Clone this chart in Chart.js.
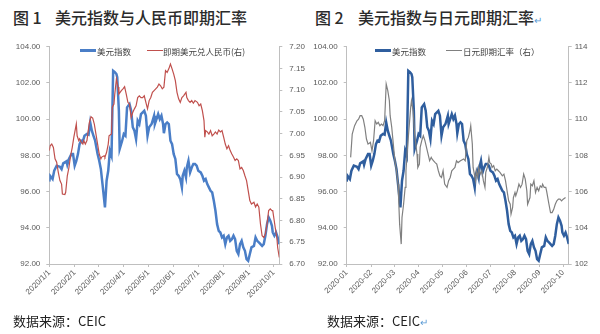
<!DOCTYPE html>
<html>
<head>
<meta charset="utf-8">
<script src="https://cdn.jsdelivr.net/npm/chart.js@4.4.1/dist/chart.umd.min.js"></script>
<style>
  body { margin: 0; width: 600px; height: 334px; background: #fff; position: relative; overflow: hidden;
         font-family: "Noto Sans CJK SC", sans-serif; }
  .t { position: absolute; top: 7px; line-height: 20px; font-size: 16px; font-weight: 500; color: #2b2b2b; white-space: nowrap; }
  .src { position: absolute; top: 313px; line-height: 16px; font-size: 13px; color: #222; white-space: nowrap; }
  .lg { position: absolute; top: 45.5px; line-height: 10px; font-size: 8.5px; color: #404040; white-space: nowrap; }
  .ln { position: absolute; width: 16px; }
  .ret { color: #5B9BD5; font-size: 10px; font-weight: normal; }
  canvas { position: absolute; top: 30px; }
</style>
</head>
<body>
<div class="t" style="left:13px">图 1</div>
<div class="t" style="left:55px">美元指数与人民币即期汇率</div>
<div class="t" style="left:315px">图 2</div>
<div class="t" style="left:358px">美元指数与日元即期汇率<span class="ret">↵</span></div>

<canvas id="cnyChart" width="310" height="290" style="left:0"></canvas>
<canvas id="jpyChart" width="300" height="290" style="left:300px"></canvas>

<div class="ln" style="left:80px;top:49.3px;height:2.5px;background:#4A7EC7"></div>
<div class="lg" style="left:97px">美元指数</div>
<div class="ln" style="left:146.5px;top:49.9px;height:1.3px;background:#C0504D"></div>
<div class="lg" style="left:163px">即期美元兑人民币(右)</div>

<div class="ln" style="left:375px;top:49.3px;height:2.5px;background:#2F5E9E"></div>
<div class="lg" style="left:392px">美元指数</div>
<div class="ln" style="left:445.5px;top:49.9px;height:1.3px;background:#808080"></div>
<div class="lg" style="left:463px">日元即期汇率（右）</div>

<div class="src" style="left:13px">数据来源：CEIC</div>
<div class="src" style="left:327px">数据来源：CEIC<span class="ret">↵</span></div>

<script>
// x 轴用 2020 年内的天数（1月1日 = 0）
const monthDays = [0, 31, 60, 91, 121, 152, 182, 213, 244, 274];
const cnyMonthLabels = ['2020/1/1', '2020/2/1', '2020/3/1', '2020/4/1', '2020/5/1',
  '2020/6/1', '2020/7/1', '2020/8/1', '2020/9/1', '2020/10/1'];
const jpyMonthLabels = ['2020-01', '2020-02', '2020-03', '2020-04', '2020-05',
  '2020-06', '2020-07', '2020-08', '2020-09', '2020-10'];

// 美元指数
const dxyDays = [0, 1, 4, 6, 9, 13, 15, 17, 21, 22, 24, 27, 29, 31, 33, 35, 37, 39, 41, 43,
  46, 48, 50, 52, 54, 56, 59, 61, 63, 65, 68, 70, 72, 74, 76, 78, 80, 82, 83, 85,
  86, 89, 91, 93, 95, 98, 100, 102, 104, 106, 108, 110, 112, 116, 118, 120, 122, 125, 128, 129,
  133, 135, 137, 139, 140, 142, 144, 146, 148, 150, 152, 154, 156, 158, 160, 162, 163, 165, 167, 168,
  170, 172, 174, 176, 178, 180, 182, 185, 187, 189, 191, 193, 195, 197, 199, 201, 203, 205, 207, 209,
  211, 213, 215, 217, 219, 221, 223, 225, 227, 229, 231, 233, 235, 237, 239, 241, 243, 245, 247, 250,
  252, 254, 256, 258, 260, 262, 264, 266, 268, 270, 272, 273, 275, 277, 279, 281];
const dxyValues = [96.55, 96.87, 96.69, 97.15, 97.43, 97.37, 97.24, 97.56, 97.67, 97.48, 97.80, 98.07, 98.07, 97.43, 97.70, 98.07, 98.62, 98.81, 98.77, 99.08,
  99.18, 99.14, 99.82, 99.36, 99.08, 98.81, 98.07, 97.70, 97.24, 96.41, 95.13, 96.60, 97.15, 98.25, 97.98, 102.67, 102.60, 102.49, 102.31, 100.46,
  98.35, 98.81, 99.18, 99.08, 100.65, 100.83, 100.46, 99.55, 99.36, 98.90, 99.91, 99.73, 100.28, 100.46, 100.19, 99.08, 99.55, 99.73, 100.19, 99.73,
  100.28, 100.00, 100.19, 99.73, 99.22, 99.73, 99.82, 99.73, 98.81, 98.62, 98.07, 97.80, 96.97, 96.87, 96.69, 96.23, 96.87, 97.15, 96.78, 97.33,
  97.70, 97.06, 97.33, 97.52, 97.52, 97.43, 97.15, 97.06, 96.87, 96.60, 96.69, 96.41, 96.23, 96.04, 95.95, 95.49, 94.94, 94.20, 93.83, 93.74,
  93.47, 93.56, 93.10, 93.47, 93.56, 93.28, 93.37, 93.56, 93.37, 92.73, 92.55, 93.10, 93.28, 92.92, 92.73, 92.27, 92.18, 92.55, 92.92, 93.00,
  93.47, 93.28, 93.19, 93.10, 93.00, 93.10, 93.56, 94.20, 94.57, 94.39, 94.11, 93.74, 93.56, 93.74, 93.47, 93.10];

// 即期美元兑人民币
const cnyDays = [0, 1, 3, 5, 7, 9, 11, 13, 15, 16, 19, 20, 22, 24, 26, 28, 30, 33, 34, 36,
  37, 39, 41, 42, 44, 46, 47, 49, 51, 53, 55, 57, 59, 61, 63, 64, 67, 68, 70, 72,
  73, 76, 77, 79, 80, 82, 84, 85, 88, 90, 92, 94, 96, 98, 100, 102, 104, 106, 108, 110,
  112, 114, 116, 118, 120, 122, 124, 126, 128, 130, 132, 134, 136, 138, 140, 142, 144, 146, 148, 150,
  152, 154, 156, 158, 160, 162, 164, 167, 168, 170, 172, 174, 176, 178, 181, 183, 185, 187, 189, 190,
  191, 193, 195, 197, 199, 201, 203, 205, 207, 209, 211, 213, 215, 217, 219, 221, 223, 225, 227, 229,
  231, 233, 235, 237, 239, 241, 243, 245, 247, 250, 252, 254, 256, 258, 260, 262, 264, 266, 268, 270,
  272, 273, 276, 278, 279, 281];
const cnyValues = [6.961, 6.972, 6.976, 6.968, 6.942, 6.934, 6.911, 6.892, 6.884, 6.861, 6.860, 6.865, 6.903, 6.922, 6.949, 6.968, 6.992, 7.022, 6.995, 6.984,
  6.988, 6.980, 6.976, 6.984, 6.976, 6.984, 6.999, 7.026, 7.039, 7.036, 7.022, 6.999, 6.976, 6.953, 6.942, 6.946, 6.949, 6.946, 6.957, 6.976,
  6.995, 6.999, 7.061, 7.068, 7.091, 7.126, 7.107, 7.091, 7.099, 7.103, 7.108, 7.091, 7.072, 7.068, 7.037, 7.049, 7.057, 7.064, 7.083, 7.087,
  7.083, 7.083, 7.087, 7.072, 7.057, 7.076, 7.083, 7.095, 7.099, 7.103, 7.107, 7.114, 7.110, 7.103, 7.107, 7.145, 7.141, 7.149, 7.160, 7.149,
  7.137, 7.122, 7.095, 7.080, 7.072, 7.083, 7.087, 7.095, 7.083, 7.076, 7.072, 7.076, 7.070, 7.076, 7.072, 7.064, 7.068, 7.053, 7.030, 6.992,
  7.007, 7.004, 6.999, 7.007, 6.995, 6.999, 7.004, 6.999, 7.008, 7.004, 7.007, 6.992, 6.976, 6.965, 6.972, 6.961, 6.953, 6.946, 6.938, 6.942,
  6.938, 6.919, 6.922, 6.915, 6.903, 6.892, 6.869, 6.846, 6.838, 6.842, 6.831, 6.838, 6.831, 6.792, 6.765, 6.761, 6.769, 6.792, 6.823, 6.827,
  6.823, 6.823, 6.784, 6.761, 6.738, 6.715];

// 日元即期汇率
const jpyDays = [5, 7, 10, 13, 15, 17, 19, 21, 23, 25, 27, 30, 32, 34, 36, 38, 40, 42, 44, 46,
  48, 50, 52, 54, 55, 57, 59, 61, 63, 65, 66, 67, 69, 70, 72, 74, 75, 77, 79, 81,
  82, 84, 86, 89, 90, 92, 93, 95, 97, 99, 101, 103, 105, 107, 108, 110, 112, 114, 116, 118,
  120, 122, 124, 127, 129, 131, 133, 135, 137, 139, 141, 144, 148, 150, 152, 154, 156, 157, 159, 160,
  162, 163, 164, 166, 167, 169, 171, 173, 175, 176, 178, 180, 181, 183, 184, 186, 188, 190, 192, 194,
  197, 199, 201, 203, 205, 207, 208, 210, 211, 213, 214, 216, 218, 220, 222, 224, 226, 228, 229, 232,
  233, 235, 237, 239, 241, 243, 245, 247, 248, 250, 252, 253, 256, 258, 260, 262, 264, 266, 268, 270,
  272, 274, 277];
const jpyValues = [107.89, 109.18, 109.64, 109.91, 110.00, 110.19, 110.19, 110.00, 109.55, 108.90, 108.62, 108.72, 108.25, 108.81, 109.91, 109.73, 109.82, 109.64, 109.73, 109.64,
  109.91, 111.94, 111.57, 111.02, 110.19, 109.55, 108.62, 107.70, 107.15, 106.41, 105.30, 104.20, 103.10, 104.57, 105.30, 106.23, 107.15, 108.44, 109.55, 110.65,
  111.02, 110.46, 109.18, 108.07, 107.33, 107.52, 108.44, 108.81, 109.08, 108.81, 108.44, 108.07, 107.70, 107.89, 107.80, 107.70, 107.60, 107.52, 107.15, 106.87,
  106.78, 107.15, 106.41, 106.23, 106.60, 106.78, 107.15, 107.24, 107.33, 107.70, 107.60, 107.70, 107.80, 107.70, 108.81, 108.99, 109.36, 109.64, 108.62, 107.33,
  106.87, 106.60, 107.15, 106.78, 107.33, 106.96, 107.15, 106.60, 106.23, 107.06, 107.33, 107.89, 107.60, 107.52, 107.33, 107.43, 107.15, 107.24, 107.15, 107.06,
  106.87, 106.96, 106.60, 106.04, 105.49, 105.30, 104.75, 105.12, 105.67, 105.95, 105.77, 106.04, 106.41, 106.23, 106.41, 106.96, 106.69, 106.04, 105.30, 105.67,
  106.41, 106.32, 106.60, 105.95, 106.23, 106.04, 106.32, 106.23, 106.41, 106.23, 106.23, 106.04, 105.30, 104.84, 104.84, 105.02, 105.30, 105.49, 105.58, 105.58,
  105.49, 105.58, 105.67];

const toPoints = (days, values) => days.map((d, i) => ({ x: d, y: values[i] }));

const axisColor = '#BFBFBF';
const tickColor = '#595959';
const tickFont = { family: 'Liberation Sans', size: 8 };

function xAxis(labels) {
  return {
    type: 'linear',
    min: 0,
    max: 281,
    afterBuildTicks: scale => { scale.ticks = monthDays.map(v => ({ value: v })); },
    afterFit: scale => { scale.height = 56; },
    grid: { drawOnChartArea: false, tickLength: 3, color: axisColor },
    border: { color: axisColor },
    ticks: {
      autoSkip: false, minRotation: 45, maxRotation: 45, padding: 1,
      font: tickFont, color: tickColor,
      callback: (value, index) => labels[index]
    }
  };
}

function yAxis(position, min, max, step, width, pad, fmt) {
  return {
    position: position,
    min: min,
    max: max,
    afterFit: scale => { scale.width = width; },
    grid: { drawOnChartArea: false, tickLength: 3, color: axisColor },
    border: { color: axisColor },
    ticks: { stepSize: step, padding: pad, font: tickFont, color: tickColor, callback: fmt }
  };
}

function lineSet(label, points, color, width, axisId) {
  return {
    label: label,
    data: points,
    borderColor: color,
    backgroundColor: color,
    borderWidth: width,
    pointRadius: 0,
    tension: 0,
    yAxisID: axisId
  };
}

const baseOptions = {
  responsive: false,
  animation: false,
  layout: { padding: { top: 16.7, left: 0, right: 0, bottom: 0 } },
  plugins: { legend: { display: false }, tooltip: { enabled: false } }
};

// 图1：美元指数与人民币即期汇率
new Chart(document.getElementById('cnyChart').getContext('2d'), {
  type: 'line',
  data: {
    datasets: [
      lineSet('即期美元兑人民币(右)', toPoints(cnyDays, cnyValues), '#C0504D', 1.2, 'y1'),
      lineSet('美元指数', toPoints(dxyDays, dxyValues), '#4A7EC7', 2.5, 'y')
    ]
  },
  options: Object.assign({}, baseOptions, {
    scales: {
      x: xAxis(cnyMonthLabels),
      y: yAxis('left', 92, 104, 2, 49.3, 6, v => v.toFixed(2)),
      y1: yAxis('right', 6.7, 7.2, 0.05, 30.7, 7, v => v.toFixed(2))
    }
  })
});

// 图2：美元指数与日元即期汇率
new Chart(document.getElementById('jpyChart').getContext('2d'), {
  type: 'line',
  data: {
    datasets: [
      lineSet('日元即期汇率（右）', toPoints(jpyDays, jpyValues), '#808080', 1.2, 'y1'),
      lineSet('美元指数', toPoints(dxyDays, dxyValues), '#2F5E9E', 2.5, 'y')
    ]
  },
  options: Object.assign({}, baseOptions, {
    scales: {
      x: xAxis(jpyMonthLabels),
      y: yAxis('left', 92, 104, 2, 46.7, 6, v => v.toFixed(2)),
      y1: yAxis('right', 102, 114, 2, 31.3, 3, v => v)
    }
  })
});
</script>
</body>
</html>
